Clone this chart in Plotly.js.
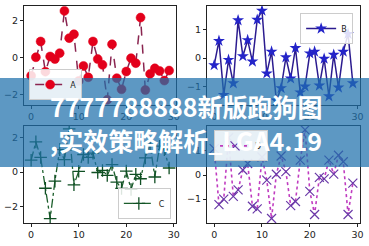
<!DOCTYPE html>
<html>
<head>
<meta charset="utf-8">
<script src="https://cdn.plot.ly/plotly-3.0.1.min.js"></script>
<style>
  html, body { margin: 0; padding: 0; background: #fff; }
  #chart { width: 369px; height: 246px; }
</style>
</head>
<body>
<div id="chart"></div>
<script>
// x positions shared by all four panels
const steps = Array.from({length: 30}, (_, i) => i);

// series values per panel
const seriesA = [-1.0, 0.0, 0.85, -0.78, 0.04, -0.1, 0.22, 2.5, 1.03, 1.24,
                 -1.28, -0.47, -1.08, 0.85, -0.1, -0.41, -2.3, 0.7, -1.13, -1.73,
                 -0.77, -0.05, -0.32, 2.14, -1.77, -0.9, -0.6, -0.74, -1.26, -0.72];
const seriesB = [-0.25, 0.61, -1.3, -0.06, -0.89, 1.34, 0.07, 0.64, -0.12, 1.36,
                 1.68, -0.54, 0.23, -1.5, -1.06, 0.03, -0.72, 0.36, -1.21, -1.0,
                 0.17, 0.23, -0.97, -0.02, -1.35, 0.12, -1.04, 0.23, 0.86, -0.89];
const seriesC = [0.69, 1.75, 0.85, -0.93, -2.68, -0.52, 1.3, 0.72, 2.5, -0.73,
                 0.05, 1.02, 0.85, 1.1, -0.02, 0.1, -0.19, 0.44, -0.58, -0.94,
                 0.06, -1.0, -0.13, -0.38, 0.82, 1.6, -0.28, 1.5, 1.3, 0.24];
const seriesD = [1.1, -1.23, -1.0, 1.55, -0.89, -0.62, 0.21, 0.48, -1.3, -1.41,
                 0.75, -0.21, -1.81, 0.03, 0.79, 0.14, -1.27, -1.1, 0.62, 1.88,
                 -0.68, -1.64, -0.1, -0.16, 0.62, 0.04, 0.82, 0.55, -1.64, -0.34];

// legend labels
const names = ['A', 'B', 'C', 'D'];

// overlay caption
const captionLines = ['7777788888新版跑狗图', ',实效策略解析_LGA4.19'];

const tickFont = {family: 'DejaVu Sans', size: 9.5, color: '#222'};

const traces = [
  {x: steps, y: seriesA, name: names[0], xaxis: 'x', yaxis: 'y', legend: 'legend',
   mode: 'lines+markers',
   line: {color: '#8a2550', width: 1.5, dash: 'dash'},
   marker: {symbol: 'circle', size: 9, color: '#e3001b', line: {color: '#e3001b', width: 0.5}}},
  {x: steps, y: seriesB, name: names[1], xaxis: 'x2', yaxis: 'y2', legend: 'legend2',
   mode: 'lines+markers',
   line: {color: '#2b1b8f', width: 1.5},
   marker: {symbol: 'star', size: 9, color: '#2424c8', line: {width: 0}}},
  {x: steps, y: seriesC, name: names[2], xaxis: 'x3', yaxis: 'y3', legend: 'legend3',
   mode: 'lines+markers',
   line: {color: '#1b5e2b', width: 1.3, dash: 'dashdot'},
   marker: {symbol: 'cross-thin-open', size: 9, color: '#0f4f23', line: {color: '#0f4f23', width: 1.3}}},
  {x: steps, y: seriesD, name: names[3], xaxis: 'x4', yaxis: 'y4', legend: 'legend4',
   mode: 'lines+markers',
   line: {color: '#c03cc0', width: 1.6, dash: 'dot'},
   marker: {symbol: 'x-thin-open', size: 9, color: '#6a3aa8', line: {color: '#6a3aa8', width: 1.2}}}
];

function xAxis(domain, anchor) {
  return {domain: domain, anchor: anchor, range: [-1.5, 30.45],
    tickvals: [0, 10, 20, 30], ticks: 'outside', ticklen: 3, tickcolor: '#222',
    showline: true, linecolor: '#222', linewidth: 1, mirror: true,
    showgrid: false, zeroline: false, tickfont: tickFont};
}
function yAxis(domain, anchor, range, vals) {
  return {domain: domain, anchor: anchor, range: range,
    tickvals: vals, ticks: 'outside', ticklen: 3, tickcolor: '#222',
    showline: true, linecolor: '#222', linewidth: 1, mirror: true,
    showgrid: false, zeroline: false, tickfont: tickFont};
}
function legendBox(x, y, xa, ya) {
  return {x: x, y: y, xanchor: xa, yanchor: ya, xref: 'paper', yref: 'paper',
    bgcolor: 'rgba(255,255,255,0.85)', bordercolor: '#cccccc', borderwidth: 1,
    font: {family: 'DejaVu Sans', size: 8, color: '#222'}, itemwidth: 30,
    tracegroupgap: 0};
}

const leftDom = [0.065, 0.477];
const rightDom = [0.561, 0.975];
const topDom = [0.573, 0.976];
const botDom = [0.094, 0.488];

const layout = {
  width: 369, height: 246,
  margin: {l: 0, r: 0, t: 0, b: 0},
  paper_bgcolor: '#ffffff', plot_bgcolor: '#ffffff',
  showlegend: true,
  xaxis: xAxis(leftDom, 'y'),
  yaxis: yAxis(topDom, 'x', [-2.58, 2.77], [-2, 0, 2]),
  xaxis2: xAxis(rightDom, 'y2'),
  yaxis2: yAxis(topDom, 'x2', [-1.66, 1.85], [-1, 0, 1]),
  xaxis3: xAxis(leftDom, 'y3'),
  yaxis3: yAxis(botDom, 'x3', [-2.93, 2.67], [-2, 0, 2]),
  xaxis4: xAxis(rightDom, 'y4'),
  yaxis4: yAxis(botDom, 'x4', [-1.99, 2.04], [-1, 0, 1]),
  legend: legendBox(0.079, 0.593, 'left', 'bottom'),
  legend2: legendBox(0.957, 0.947, 'right', 'top'),
  legend3: legendBox(0.463, 0.11, 'right', 'bottom'),
  legend4: legendBox(0.58, 0.47, 'left', 'top'),
  shapes: [
    {type: 'rect', xref: 'paper', yref: 'paper', x0: 0, x1: 1, y0: 0.321, y1: 0.683,
     fillcolor: 'rgba(30,112,172,0.72)', line: {width: 0}, layer: 'above'}
  ],
  annotations: captionLines.map((t, i) => ({
    text: '<b>' + t + '</b>', xref: 'paper', yref: 'paper',
    x: 0.505, y: i === 0 ? 0.569 : 0.43, xanchor: 'center', yanchor: 'middle',
    showarrow: false,
    font: {family: 'Noto Sans CJK SC', size: 25, color: '#ffffff'}
  }))
};

Plotly.newPlot('chart', traces, layout, {staticPlot: true, displayModeBar: false});
</script>
</body>
</html>
